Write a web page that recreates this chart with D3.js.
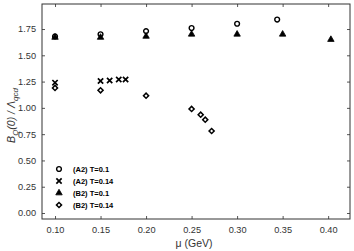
<!DOCTYPE html>
<html>
<head>
<meta charset="utf-8">
<script src="https://cdn.jsdelivr.net/npm/d3@7"></script>
<style>
  body { margin: 0; background: #fff; }
  svg text { font-family: "Liberation Sans", Arial, sans-serif; fill: #333; }
</style>
</head>
<body>
<svg id="chart"></svg>
<script>
// values
const seriesNames = ['(A2) T=0.1', '(A2) T=0.14', '(B2) T=0.1', '(B2) T=0.14'];
const a2T010 = [[0.10, 1.68], [0.15, 1.70], [0.20, 1.73], [0.25, 1.76], [0.30, 1.80], [0.344, 1.84]];
const a2T014 = [[0.10, 1.24], [0.15, 1.255], [0.16, 1.26], [0.17, 1.27], [0.1775, 1.27]];
const b2T010 = [[0.10, 1.67], [0.15, 1.67], [0.20, 1.68], [0.25, 1.70], [0.30, 1.70], [0.35, 1.70], [0.403, 1.65]];
const b2T014 = [[0.10, 1.19], [0.15, 1.167], [0.20, 1.116], [0.25, 0.99], [0.26, 0.935], [0.265, 0.888], [0.272, 0.78]];
const xTicks = [0.10, 0.15, 0.20, 0.25, 0.30, 0.35, 0.40];
const yTicks = [0, 0.25, 0.5, 0.75, 1.0, 1.25, 1.5, 1.75];

const W = 354, H = 251;
const margin = {top: 4, right: 4, bottom: 32, left: 42};
const width = W - margin.left - margin.right;
const height = H - margin.top - margin.bottom;

const svg = d3.select('#chart').attr('width', W).attr('height', H);
const g = svg.append('g').attr('transform', `translate(${margin.left},${margin.top})`);

const x = d3.scaleLinear().domain([0.0857, 0.424]).range([0, width]);
const y = d3.scaleLinear().domain([-0.057, 1.988]).range([height, 0]);

// axes with short inward ticks on all sides
const axisStyle = sel => {
  sel.select('.domain').remove();
  sel.selectAll('.tick line').attr('stroke', '#555');
  sel.selectAll('.tick text').style('font-size', '9.2px').attr('fill', '#333');
};
g.append('g').attr('transform', `translate(0,${height})`)
  .call(d3.axisBottom(x).tickValues(xTicks).tickFormat(d3.format('.2f')).tickSizeInner(-3).tickPadding(7))
  .call(axisStyle);
g.append('g')
  .call(d3.axisTop(x).tickValues(xTicks).tickFormat('').tickSizeInner(-3))
  .call(axisStyle);
g.append('g')
  .call(d3.axisLeft(y).tickValues(yTicks).tickFormat(d3.format('.2f')).tickSizeInner(-3).tickPadding(6))
  .call(axisStyle);
g.append('g').attr('transform', `translate(${width},0)`)
  .call(d3.axisRight(y).tickValues(yTicks).tickFormat('').tickSizeInner(-3))
  .call(axisStyle);

g.append('rect').attr('width', width).attr('height', height)
  .attr('fill', 'none').attr('stroke', '#333').attr('stroke-width', 1);

// marker shapes
const circle = d3.symbol().type(d3.symbolCircle).size(18)();
const cross = d3.symbol().type(d3.symbolX).size(20)();
const tri = d3.symbol().type(d3.symbolTriangle).size(18)();
const diamond = d3.symbol().type(d3.symbolSquare).size(13)();

const series = [
  {data: a2T010, d: circle, fill: 'none', stroke: '#000', sw: 1.4, rot: 0},
  {data: a2T014, d: cross, fill: 'none', stroke: '#000', sw: 1.7, rot: 0},
  {data: b2T010, d: tri, fill: '#000', stroke: '#000', sw: 0.8, rot: 0},
  {data: b2T014, d: diamond, fill: 'none', stroke: '#000', sw: 1.5, rot: 45}
];

series.forEach(s => {
  g.append('g').selectAll('path')
    .data(s.data)
    .join('path')
    .attr('d', s.d)
    .attr('transform', d => `translate(${x(d[0])},${y(d[1])}) rotate(${s.rot})`)
    .attr('fill', s.fill)
    .attr('stroke', s.stroke)
    .attr('stroke-width', s.sw);
});

// legend
const legend = svg.append('g').attr('transform', 'translate(59,169)');
series.forEach((s, i) => {
  legend.append('path')
    .attr('d', s.d)
    .attr('transform', `translate(0,${i * 12}) rotate(${s.rot})`)
    .attr('fill', s.fill)
    .attr('stroke', s.stroke)
    .attr('stroke-width', s.sw);
  legend.append('text')
    .attr('x', 14).attr('y', i * 12 + 2.5)
    .style('font-size', '7.5px').style('font-weight', 'bold')
    .style('fill', '#000')
    .text(seriesNames[i]);
});

// axis titles
svg.append('text')
  .attr('x', margin.left + width / 2 - 2).attr('y', 247)
  .style('text-anchor', 'middle').style('font-size', '10.5px')
  .text('μ (GeV)');

const yl = svg.append('text')
  .attr('transform', `translate(15,${margin.top + height / 2 + 4}) rotate(-90)`)
  .style('text-anchor', 'middle').style('font-size', '10.5px').style('font-style', 'italic');
yl.append('tspan').text('B');
yl.append('tspan').attr('dy', 3).style('font-size', '8px').text('Q');
yl.append('tspan').attr('dy', -3).text('(0) / Λ');
yl.append('tspan').attr('dy', 3).style('font-size', '8px').text('qcd');
</script>
</body>
</html>
